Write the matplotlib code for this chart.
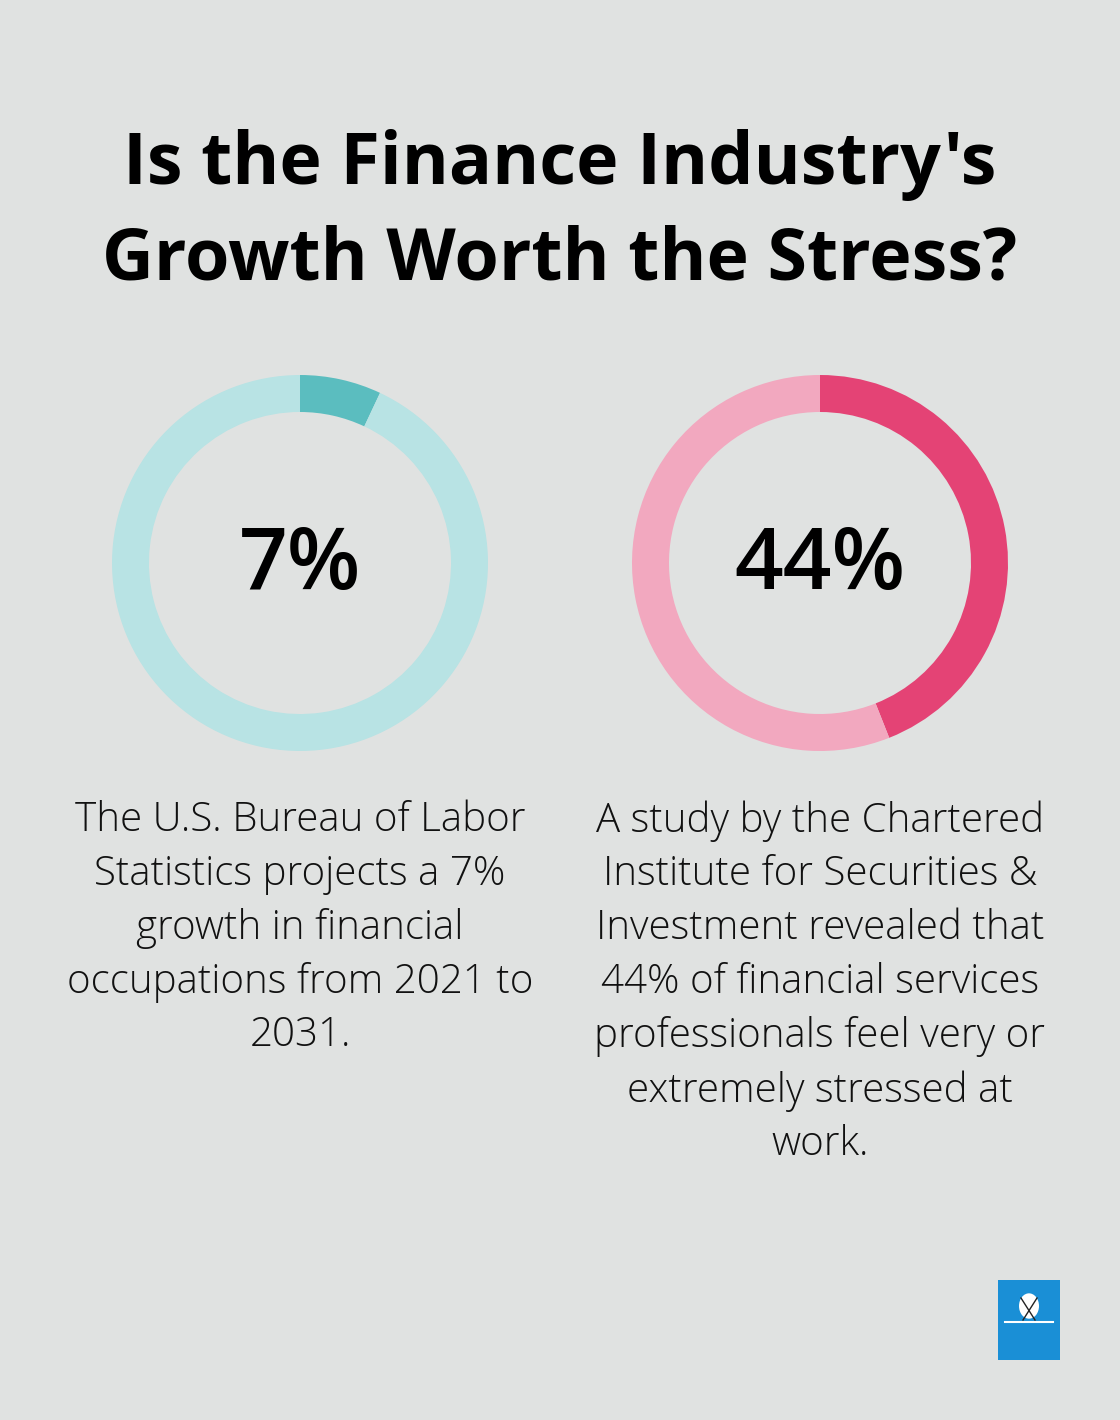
import matplotlib.pyplot as plt
from matplotlib.patches import Rectangle, Circle

# data
title_lines = ["Is the Finance Industry's", "Growth Worth the Stress?"]
percents = [7, 44]
labels = ["7%", "44%"]
descriptions = [
    "The U.S. Bureau of Labor\nStatistics projects a 7%\ngrowth in financial\noccupations from 2021 to\n2031.",
    "A study by the Chartered\nInstitute for Securities &\nInvestment revealed that\n44% of financial services\nprofessionals feel very or\nextremely stressed at\nwork.",
]
dark_colors = ["#5BBDBF", "#E44375"]
light_colors = ["#B8E3E4", "#F2A8BF"]

W, H = 1120, 1420
bg = "#E0E2E1"

fig = plt.figure(figsize=(W / 100, H / 100), dpi=100, facecolor=bg)

# title
fig.text(0.5, 1 - 165 / H, title_lines[0], ha="center", va="center",
         fontsize=51.7, fontweight="bold", family="Open Sans", color="#000000")
fig.text(0.5, 1 - 260 / H, title_lines[1], ha="center", va="center",
         fontsize=51.7, fontweight="bold", family="Open Sans", color="#000000")

centers_x = [300, 820]
cy = 563
r_out = 188
ring = 37

for i in range(2):
    cx = centers_x[i]
    ax = fig.add_axes([(cx - r_out) / W, (H - cy - r_out) / H, 2 * r_out / W, 2 * r_out / H])
    ax.pie([percents[i], 100 - percents[i]], colors=[dark_colors[i], light_colors[i]],
           startangle=90, counterclock=False, radius=1,
           wedgeprops=dict(width=ring / r_out, linewidth=0))
    ax.set_xlim(-1, 1)
    ax.set_ylim(-1, 1)
    ax.set_aspect("equal")
    ax.axis("off")
    fig.text(cx / W, 1 - 567 / H, labels[i], ha="center", va="center",
             fontsize=61.5, fontweight="semibold", family="Open Sans", color="#000000")
    fig.text(cx / W, 1 - 800 / H, descriptions[i], ha="center", va="top",
             fontsize=29, fontweight="light", family="Open Sans", color="#111111",
             linespacing=1.415)

# logo box
fig.patches.append(Rectangle((998 / W, 1 - 1360 / H), 62 / W, 80 / H,
                             transform=fig.transFigure, facecolor="#1A8FD6", edgecolor="none"))
fig.patches.append(Circle((1029 / W, 1 - 1306 / H), 10 / W,
                          transform=fig.transFigure, facecolor="white", edgecolor="none"))
fig.lines.append(plt.Line2D([1005 / W, 1053 / W], [1 - 1322 / H, 1 - 1322 / H],
                            transform=fig.transFigure, color="white", linewidth=1.5))
fig.lines.append(plt.Line2D([1021 / W, 1035 / W], [1 - 1298 / H, 1 - 1320 / H],
                            transform=fig.transFigure, color="#222222", linewidth=1))
fig.lines.append(plt.Line2D([1037 / W, 1023 / W], [1 - 1298 / H, 1 - 1320 / H],
                            transform=fig.transFigure, color="#222222", linewidth=1))

fig.savefig("out.png", dpi=100, facecolor=bg)
